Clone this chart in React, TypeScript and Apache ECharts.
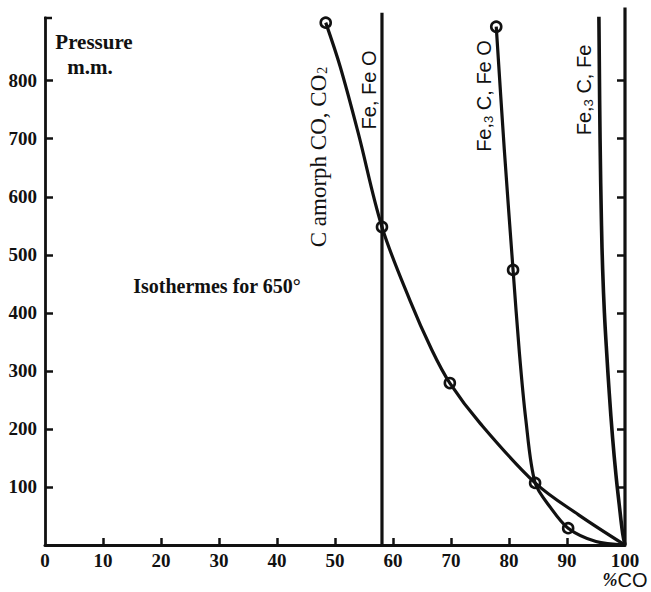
import React, { useEffect, useRef } from "react";
import * as echarts from "echarts";

// ---- data ----
const xLabelValues = [0, 10, 20, 30, 40, 50, 60, 70, 80, 90, 100];
const xTickValues = [10, 20, 30, 40, 50, 60, 70, 80, 90];
const yLabelValues = [100, 200, 300, 400, 500, 600, 700, 800];
const yTickValues = [100, 200, 300, 400, 500, 600, 700, 800];

// C amorph CO, CO2 curve
const amorphObserved = [[48.4, 900], [58.1, 548], [69.8, 279], [84.5, 107]];
const amorphCurve = [[48.4, 900], [50.9, 824], [54.0, 710], [58.1, 548], [62.9, 422], [66.7, 336], [69.8, 279], [75.0, 210], [84.5, 107], [92.0, 52], [100, 0]];

// Fe3C, FeO curve
const fe3cFeoObserved = [[77.8, 893], [80.7, 474], [90.2, 29]];
const fe3cFeoCurve = [[77.8, 893], [79.2, 680], [80.7, 474], [81.8, 330], [82.9, 216], [84.5, 107], [87.2, 64], [90.2, 29], [95.0, 6], [100, 0]];

// Fe3C, Fe curve
const fe3cFeCurve = [[95.5, 910], [95.7, 700], [95.95, 550], [96.15, 474], [96.45, 400], [96.85, 330], [97.3, 260], [97.85, 186], [98.45, 120], [99.0, 70], [99.6, 20], [100, 0]];

// Fe, FeO vertical boundary
const feFeoLine = [[58.1, 0], [58.1, 917]];

// right frame line at 100 %CO
const rightFrame = [[100, 0], [100, 926]];

const INK = "#111";
const SERIF = "'Liberation Serif', 'Times New Roman', serif";
const SANS = "'Liberation Sans', Arial, sans-serif";

function curve(name: string, data: number[][], smooth: number | boolean, width = 3.2) {
  return {
    name,
    type: "line",
    data,
    smooth,
    symbol: "none",
    clip: false,
    lineStyle: { color: INK, width, opacity: 1 },
    z: 3,
  };
}

function observed(name: string, data: number[][]) {
  return {
    name,
    type: "scatter",
    data,
    symbol: "circle",
    symbolSize: 10,
    clip: false,
    itemStyle: { color: "transparent", borderColor: INK, borderWidth: 2.6, opacity: 1 },
    z: 5,
  };
}

const option: any = {
  animation: false,
  backgroundColor: "#fff",
  grid: { left: 45, right: 26, top: 18, bottom: 47, outerBoundsMode: "none", containLabel: false },
  xAxis: {
    type: "value",
    min: 0,
    max: 100,
    splitLine: { show: false },
    axisLine: { show: true, lineStyle: { color: INK, width: 3 } },
    axisTick: { show: true, inside: true, length: 7, lineStyle: { color: INK, width: 2.5 }, customValues: xTickValues },
    axisLabel: {
      customValues: xLabelValues,
      color: INK,
      fontFamily: SERIF,
      fontWeight: "bold",
      fontSize: 19,
      margin: 6,
    },
  },
  yAxis: [
    {
      type: "value",
      min: 0,
      max: 908,
      position: "left",
      splitLine: { show: false },
      axisLine: { show: true, lineStyle: { color: INK, width: 2.8 } },
      axisTick: { show: true, inside: true, length: 8, lineStyle: { color: INK, width: 2.5 }, customValues: yTickValues },
      axisLabel: {
        customValues: yLabelValues,
        color: INK,
        fontFamily: SERIF,
        fontWeight: "bold",
        fontSize: 19,
        margin: 8,
      },
    },
    {
      type: "value",
      min: 0,
      max: 908,
      position: "right",
      splitLine: { show: false },
      axisLine: { show: false },
      axisTick: { show: true, inside: true, length: 8, lineStyle: { color: INK, width: 2.5 }, customValues: yTickValues },
      axisLabel: { show: false },
    },
  ],
  series: [
    curve("Right frame", rightFrame, false, 3.2),
    curve("Fe, FeO", feFeoLine, false, 3.2),
    curve("C amorph CO, CO2", amorphCurve, 0.35),
    curve("Fe3C, FeO", fe3cFeoCurve, 0.3),
    curve("Fe3C, Fe", fe3cFeCurve, 0.4, 3.6),
    observed("C amorph observed", amorphObserved),
    observed("Fe3C, FeO observed", fe3cFeoObserved),
  ],
  graphic: [
    // small serif at top of left axis
    { type: "line", shape: { x1: 44, y1: 18, x2: 52, y2: 18 }, style: { stroke: INK, lineWidth: 2.5 } },
    {
      type: "text",
      x: 94,
      y: 42,
      style: { text: "Pressure", fontFamily: SERIF, fontWeight: "bold", fontSize: 21, fill: INK, align: "center", verticalAlign: "middle" },
    },
    {
      type: "text",
      x: 90,
      y: 67,
      style: { text: "m.m.", fontFamily: SERIF, fontWeight: "bold", fontSize: 21, fill: INK, align: "center", verticalAlign: "middle" },
    },
    {
      type: "text",
      x: 217,
      y: 286,
      style: { text: "Isothermes for 650°", fontFamily: SERIF, fontWeight: "bold", fontSize: 20, fill: INK, align: "center", verticalAlign: "middle" },
    },
    {
      type: "text",
      x: 318,
      y: 157,
      rotation: Math.PI / 2,
      style: {
        text: "{a|C amorph CO, CO}{s|2}",
        align: "center",
        verticalAlign: "middle",
        fill: INK,
        rich: {
          a: { fontFamily: SERIF, fontSize: 23, fill: INK },
          s: { fontFamily: SERIF, fontSize: 14, fill: INK, padding: [9, 0, 0, 1] },
        },
      },
    },
    {
      type: "text",
      x: 369,
      y: 90,
      rotation: Math.PI / 2,
      style: { text: "Fe, Fe O", fontFamily: SANS, fontSize: 20, fill: INK, align: "center", verticalAlign: "middle" },
    },
    {
      type: "text",
      x: 484,
      y: 96,
      rotation: Math.PI / 2,
      style: {
        text: "{a|Fe,}{s|3}{a| C, Fe O}",
        align: "center",
        verticalAlign: "middle",
        fill: INK,
        rich: {
          a: { fontFamily: SANS, fontSize: 20, fill: INK },
          s: { fontFamily: SANS, fontSize: 13, fill: INK, padding: [9, 0, 0, 0] },
        },
      },
    },
    {
      type: "text",
      x: 584,
      y: 90,
      rotation: Math.PI / 2,
      style: {
        text: "{a|Fe,}{s|3}{a| C, Fe}",
        align: "center",
        verticalAlign: "middle",
        fill: INK,
        rich: {
          a: { fontFamily: SANS, fontSize: 20, fill: INK },
          s: { fontFamily: SANS, fontSize: 13, fill: INK, padding: [9, 0, 0, 0] },
        },
      },
    },
    {
      type: "text",
      x: 625,
      y: 580,
      style: {
        text: "{p|%}{c|CO}",
        align: "center",
        verticalAlign: "middle",
        fill: INK,
        rich: {
          p: { fontFamily: SERIF, fontStyle: "italic", fontWeight: "bold", fontSize: 18, fill: INK },
          c: { fontFamily: SANS, fontSize: 20, fill: INK },
        },
      },
    },
  ],
};

export default function App() {
  const ref = useRef<HTMLDivElement>(null);
  useEffect(() => {
    document.body.style.margin = "0";
    const chart = echarts.init(ref.current as HTMLDivElement, null, { renderer: "svg" });
    chart.setOption(option);
    return () => chart.dispose();
  }, []);
  return <div ref={ref} style={{ width: 651, height: 592, background: "#fff" }} />;
}
